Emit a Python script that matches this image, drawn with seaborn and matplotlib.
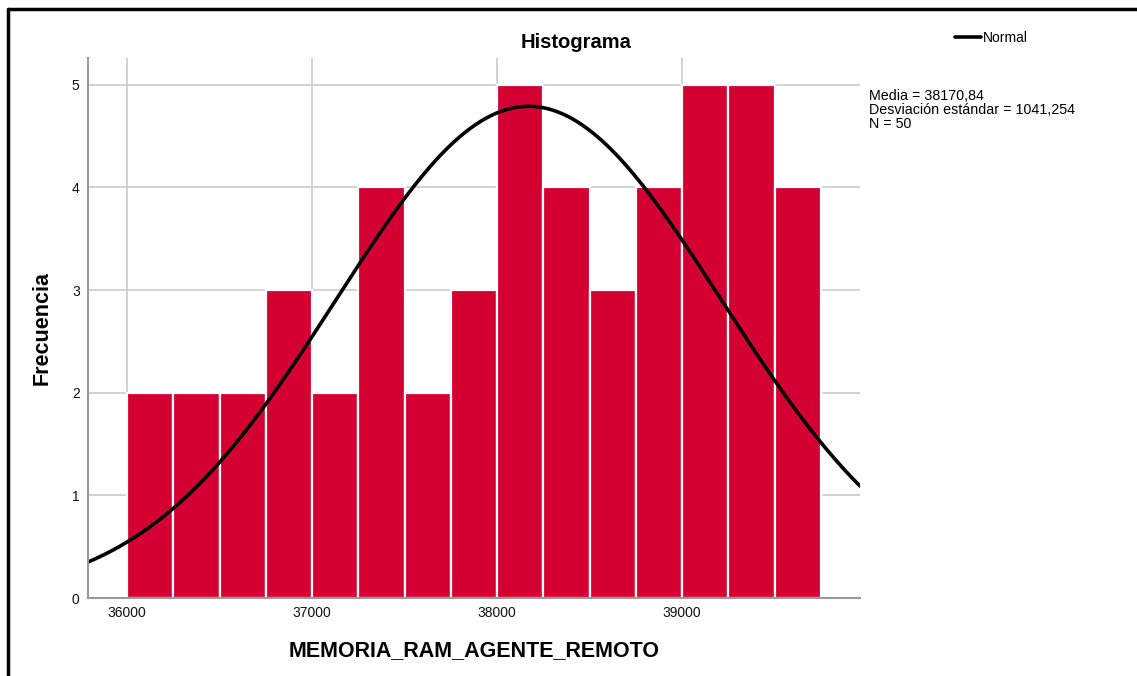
import numpy as np
import pandas as pd
import matplotlib
matplotlib.use("Agg")
import matplotlib.pyplot as plt
import seaborn as sns
from matplotlib.lines import Line2D

# Data
bin_edges = [36000 + 250 * i for i in range(16)]
counts = [2, 2, 2, 3, 2, 4, 2, 3, 5, 4, 3, 4, 5, 5, 4]
mean_val = 38170.84
sd_val = 1041.254
n_val = 50
x_ticks = [36000, 37000, 38000, 39000]
y_ticks = [0, 1, 2, 3, 4, 5]

sns.set_theme(style="white")
plt.rcParams['font.family'] = ['Liberation Sans', 'DejaVu Sans']
plt.rcParams['text.color'] = 'black'

fig = plt.figure(figsize=(11.37, 6.76), dpi=100)
ax = fig.add_axes([88/1137, 1-598/676, (860-88)/1137, (598-58)/676])

centers = [(bin_edges[i] + bin_edges[i+1]) / 2 for i in range(len(counts))]
df = pd.DataFrame({"x": centers, "w": counts})
ax.set_axisbelow(True)
ax.grid(True, color="#cccccc", linewidth=1.2)
sns.histplot(data=df, x="x", weights="w", bins=bin_edges, ax=ax,
             color="#D50032", alpha=1, edgecolor="white", linewidth=1.6)

xs = np.linspace(35789, 39962, 400)
binw = bin_edges[1] - bin_edges[0]
ys = n_val * binw / (sd_val * np.sqrt(2*np.pi)) * np.exp(-0.5 * ((xs - mean_val)/sd_val)**2)
sns.lineplot(x=xs, y=ys, ax=ax, color="black", linewidth=2.6)

ax.set_xlim(35789, 39962)
ax.set_ylim(0, 5.26)
ax.set_xticks(x_ticks)
ax.set_yticks(y_ticks)
ax.tick_params(axis='both', labelsize=10, length=0, pad=6, colors="#111111")
for s in ["top", "right"]:
    ax.spines[s].set_visible(False)
for s in ["left", "bottom"]:
    ax.spines[s].set_color("#999999")
    ax.spines[s].set_linewidth(1.5)
ax.set_xlabel("")
ax.set_ylabel("")

fig.text(576/1137, 1-42/676, "Histograma", ha="center", va="center",
         fontsize=14.5, fontweight="bold")
fig.text(474/1137, 1-651/676, "MEMORIA_RAM_AGENTE_REMOTO", ha="center", va="center",
         fontsize=15.5, fontweight="bold")
fig.text(42/1137, 1-328/676, "Frecuencia", ha="center", va="center",
         fontsize=15.5, fontweight="bold", rotation=90)

# legend
fig.add_artist(Line2D([955/1137, 981/1137], [1-37/676, 1-37/676], color="black", linewidth=2.6))
fig.text(983/1137, 1-38/676, "Normal", ha="left", va="center", fontsize=10)
fig.text(869/1137, 1-89/676,
         "Media = 38170,84\nDesviación estándar = 1041,254\nN = 50",
         ha="left", va="top", fontsize=10.3, linespacing=1.0)

# frame
fig.add_artist(Line2D([8/1137, 8/1137], [0, 1-9/676], color="black", linewidth=2.5))
fig.add_artist(Line2D([8/1137, 1], [1-9/676, 1-9/676], color="black", linewidth=2.5))

fig.savefig("out.png", dpi=100)
